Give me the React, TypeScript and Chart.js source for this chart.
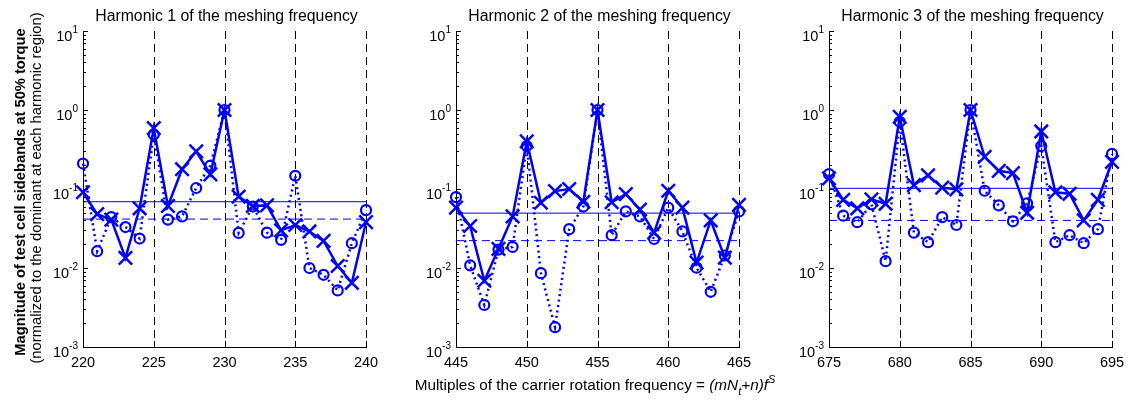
import React, { useEffect, useRef } from "react";
import { Chart, registerables } from "chart.js";

Chart.register(...registerables);

const FONT = '"Liberation Sans", Arial, Helvetica, sans-serif';
const BLUE = "#0000ff";
const WIDTH = 1136;
const HEIGHT = 402;
const PLOT_TOP = 31;
const PLOT_BOTTOM = 347;

// ---------- data ----------
const h1Orders = [220, 221, 222, 223, 224, 225, 226, 227, 228, 229, 230, 231, 232, 233, 234, 235, 236, 237, 238, 239, 240];
const h1Cross = [0.091, 0.048, 0.041, 0.0134, 0.057, 0.59, 0.061, 0.178, 0.3, 0.153, 1.0, 0.08, 0.061, 0.062, 0.03, 0.035, 0.029, 0.022, 0.0106, 0.0065, 0.038];
const h1Circle = [0.21, 0.0163, 0.044, 0.033, 0.0236, 0.49, 0.041, 0.045, 0.103, 0.198, 1.0, 0.0278, 0.06, 0.028, 0.0227, 0.147, 0.01, 0.0082, 0.0052, 0.0206, 0.054];
const h1SolidLevel = 0.069;
const h1DashedLevel = 0.0416;
const h1Harmonics = [225, 230, 235, 240];

const h2Orders = [445, 446, 447, 448, 449, 450, 451, 452, 453, 454, 455, 456, 457, 458, 459, 460, 461, 462, 463, 464, 465];
const h2Cross = [0.058, 0.034, 0.0069, 0.0175, 0.045, 0.4, 0.067, 0.094, 0.1, 0.069, 1.0, 0.068, 0.086, 0.055, 0.028, 0.095, 0.058, 0.0117, 0.04, 0.0135, 0.063];
const h2Circle = [0.079, 0.0108, 0.0034, 0.0171, 0.0185, 0.35, 0.0086, 0.00178, 0.031, 0.06, 1.0, 0.026, 0.052, 0.045, 0.0233, 0.058, 0.029, 0.0101, 0.005, 0.0144, 0.052];
const h2SolidLevel = 0.0495;
const h2DashedLevel = 0.0222;
const h2Harmonics = [450, 455, 460, 465];

const h3Orders = [675, 676, 677, 678, 679, 680, 681, 682, 683, 684, 685, 686, 687, 688, 689, 690, 691, 692, 693, 694, 695];
const h3Cross = [0.136, 0.073, 0.057, 0.074, 0.065, 0.82, 0.112, 0.149, 0.104, 0.099, 1.0, 0.255, 0.17, 0.159, 0.05, 0.535, 0.091, 0.087, 0.04, 0.073, 0.22];
const h3Circle = [0.154, 0.046, 0.038, 0.064, 0.0122, 0.71, 0.028, 0.0212, 0.044, 0.035, 1.0, 0.095, 0.062, 0.039, 0.066, 0.35, 0.0212, 0.026, 0.0206, 0.031, 0.278];
const h3SolidLevel = 0.102;
const h3DashedLevel = 0.04;
const h3Harmonics = [680, 685, 690, 695];

const titles = [
  "Harmonic 1 of the meshing frequency",
  "Harmonic 2 of the meshing frequency",
  "Harmonic 3 of the meshing frequency",
];
const yTitleBold = "Magnitude of test cell sidebands at 50% torque";
const yTitleNormal = "(normalized to the dominant at each harmonic region)";
const xTitleParts = [
  { text: "Multiples of the carrier rotation frequency = ", italic: false, shift: 0, small: false },
  { text: "(mN", italic: true, shift: 0, small: false },
  { text: "t", italic: true, shift: 5, small: true },
  { text: "+n)f", italic: true, shift: 0, small: false },
  { text: "S", italic: true, shift: -7, small: true },
];
const yExponents = [-3, -2, -1, 0, 1];

type Panel = {
  title: string;
  orders: number[];
  cross: number[];
  circle: number[];
  solid: number;
  dashed: number;
  harmonics: number[];
  left: number;
  right: number;
};

const panels: Panel[] = [
  { title: titles[0], orders: h1Orders, cross: h1Cross, circle: h1Circle, solid: h1SolidLevel, dashed: h1DashedLevel, harmonics: h1Harmonics, left: 83, right: 366 },
  { title: titles[1], orders: h2Orders, cross: h2Cross, circle: h2Circle, solid: h2SolidLevel, dashed: h2DashedLevel, harmonics: h2Harmonics, left: 456, right: 739 },
  { title: titles[2], orders: h3Orders, cross: h3Cross, circle: h3Circle, solid: h3SolidLevel, dashed: h3DashedLevel, harmonics: h3Harmonics, left: 829, right: 1112 },
];

function makeDecor(panel: Panel, index: number) {
  return {
    id: "decor" + index,
    beforeDatasetsDraw(chart: any) {
      const { ctx, chartArea, scales } = chart;
      const xs = scales.x;
      ctx.save();
      ctx.strokeStyle = "#000";
      ctx.lineWidth = 1;
      ctx.setLineDash([8, 5]);
      for (const v of panel.harmonics) {
        const px = Math.round(xs.getPixelForValue(v)) + 0.5;
        ctx.beginPath();
        ctx.moveTo(px, chartArea.top);
        ctx.lineTo(px, chartArea.bottom);
        ctx.stroke();
      }
      ctx.restore();
    },
    afterDraw(chart: any) {
      const { ctx, chartArea, scales } = chart;
      const xs = scales.x;
      const ys = scales.y;
      const left = chartArea.left;
      const bottom = chartArea.bottom;
      ctx.save();
      ctx.strokeStyle = "#000";
      ctx.lineWidth = 1;
      ctx.setLineDash([]);
      // x ticks (inward)
      for (const t of xs.ticks) {
        const px = Math.round(xs.getPixelForValue(t.value)) + 0.5;
        ctx.beginPath();
        ctx.moveTo(px, bottom);
        ctx.lineTo(px, bottom - 6);
        ctx.stroke();
      }
      // y ticks (major + minor, inward)
      for (let e = -3; e <= 0; e++) {
        for (let m = 1; m <= 9; m++) {
          const v = m * Math.pow(10, e);
          const py = Math.round(ys.getPixelForValue(v)) + 0.5;
          ctx.beginPath();
          ctx.moveTo(left, py);
          ctx.lineTo(left + (m === 1 ? 5 : 3), py);
          ctx.stroke();
        }
      }
      {
        const py = Math.round(ys.getPixelForValue(10)) + 0.5;
        ctx.beginPath();
        ctx.moveTo(left, py);
        ctx.lineTo(left + 5, py);
        ctx.stroke();
      }
      // y tick labels 10^e
      ctx.fillStyle = "#000";
      ctx.textAlign = "left";
      ctx.textBaseline = "alphabetic";
      for (const e of yExponents) {
        const py = ys.getPixelForValue(Math.pow(10, e));
        ctx.font = `14.5px ${FONT}`;
        const w1 = ctx.measureText("10").width;
        ctx.font = `10px ${FONT}`;
        const sup = String(e);
        const w2 = ctx.measureText(sup).width;
        const rightEdge = left - 5;
        ctx.font = `14.5px ${FONT}`;
        ctx.fillText("10", rightEdge - w2 - w1, py + 10);
        ctx.font = `10px ${FONT}`;
        ctx.fillText(sup, rightEdge - w2, py + 2);
      }
      // title
      ctx.font = `15.8px ${FONT}`;
      ctx.textAlign = "center";
      ctx.fillText(panel.title, (chartArea.left + chartArea.right) / 2 + 2, 21);

      if (index === 0) {
        ctx.save();
        ctx.translate(24.5, 192);
        ctx.rotate(-Math.PI / 2);
        ctx.font = `bold 14.7px ${FONT}`;
        ctx.textAlign = "center";
        ctx.fillText(yTitleBold, 0, 0);
        ctx.restore();
        ctx.save();
        ctx.translate(41, 188);
        ctx.rotate(-Math.PI / 2);
        ctx.font = `14.8px ${FONT}`;
        ctx.textAlign = "center";
        ctx.fillText(yTitleNormal, 0, 0);
        ctx.restore();
      }
      if (index === 1) {
        const fontFor = (p: any) => `${p.italic ? "italic " : ""}${p.small ? 11 : 15.3}px ${FONT}`;
        let total = 0;
        for (const p of xTitleParts) {
          ctx.font = fontFor(p);
          total += ctx.measureText(p.text).width;
        }
        let x = 595 - total / 2;
        ctx.textAlign = "left";
        for (const p of xTitleParts) {
          ctx.font = fontFor(p);
          ctx.fillText(p.text, x, 390 + p.shift);
          x += ctx.measureText(p.text).width;
        }
      }
      ctx.restore();
    },
  };
}

function PanelChart({ panel, index }: { panel: Panel; index: number }) {
  const ref = useRef<HTMLCanvasElement | null>(null);
  useEffect(() => {
    if (!ref.current) return;
    const xmin = panel.orders[0];
    const xmax = panel.orders[panel.orders.length - 1];
    const chart = new Chart(ref.current, {
      type: "line",
      data: {
        datasets: [
          {
            data: panel.orders.map((x, i) => ({ x, y: panel.cross[i] })),
            borderColor: BLUE,
            borderWidth: 2.5,
            pointStyle: "crossRot",
            pointRadius: 9.5,
            pointBorderWidth: 2.5,
            pointBorderColor: BLUE,
            pointBackgroundColor: BLUE,
            tension: 0,
            clip: false as any,
          },
          {
            data: panel.orders.map((x, i) => ({ x, y: panel.circle[i] })),
            borderColor: BLUE,
            borderWidth: 2.5,
            borderDash: [2, 3.5],
            pointStyle: "circle",
            pointRadius: 5,
            pointBorderWidth: 2.2,
            pointBorderColor: BLUE,
            pointBackgroundColor: "rgba(0,0,0,0)",
            tension: 0,
            clip: false as any,
          },
          {
            data: [{ x: xmin, y: panel.solid }, { x: xmax, y: panel.solid }],
            borderColor: BLUE,
            borderWidth: 1,
            pointRadius: 0,
          },
          {
            data: [{ x: xmin, y: panel.dashed }, { x: xmax, y: panel.dashed }],
            borderColor: BLUE,
            borderWidth: 1,
            borderDash: [8, 5],
            pointRadius: 0,
          },
        ],
      },
      options: {
        responsive: false,
        animation: false,
        devicePixelRatio: 1,
        events: [],
        layout: {
          padding: { left: panel.left, right: WIDTH - panel.right, top: PLOT_TOP, bottom: 0 },
        },
        plugins: {
          legend: { display: false },
          tooltip: { enabled: false },
          title: { display: false },
        },
        scales: {
          x: {
            type: "linear",
            min: xmin,
            max: xmax,
            ticks: {
              stepSize: 5,
              color: "#000",
              font: { family: FONT, size: 14.5 },
              padding: 7,
              maxRotation: 0,
              autoSkip: false,
            },
            grid: { display: false, drawTicks: false },
            border: { display: true, color: "#000", width: 1 },
            afterFit: (s: any) => {
              s.height = HEIGHT - PLOT_BOTTOM;
              s.paddingLeft = 0;
              s.paddingRight = 0;
            },
          },
          y: {
            type: "logarithmic",
            min: 1e-3,
            max: 10,
            ticks: { display: false },
            grid: { display: false, drawTicks: false },
            border: { display: true, color: "#000", width: 1 },
            afterFit: (s: any) => {
              s.width = 0;
              s.paddingTop = 0;
              s.paddingBottom = 0;
            },
          },
        },
      } as any,
      plugins: [makeDecor(panel, index)],
    });
    return () => chart.destroy();
  }, [panel, index]);
  return (
    <canvas
      ref={ref}
      width={WIDTH}
      height={HEIGHT}
      style={{ position: "absolute", left: 0, top: 0, width: WIDTH, height: HEIGHT }}
    />
  );
}

export default function App() {
  return (
    <div style={{ position: "absolute", left: 0, top: 0, width: WIDTH, height: HEIGHT, background: "#fff" }}>
      {panels.map((p, i) => (
        <PanelChart key={i} panel={p} index={i} />
      ))}
    </div>
  );
}
